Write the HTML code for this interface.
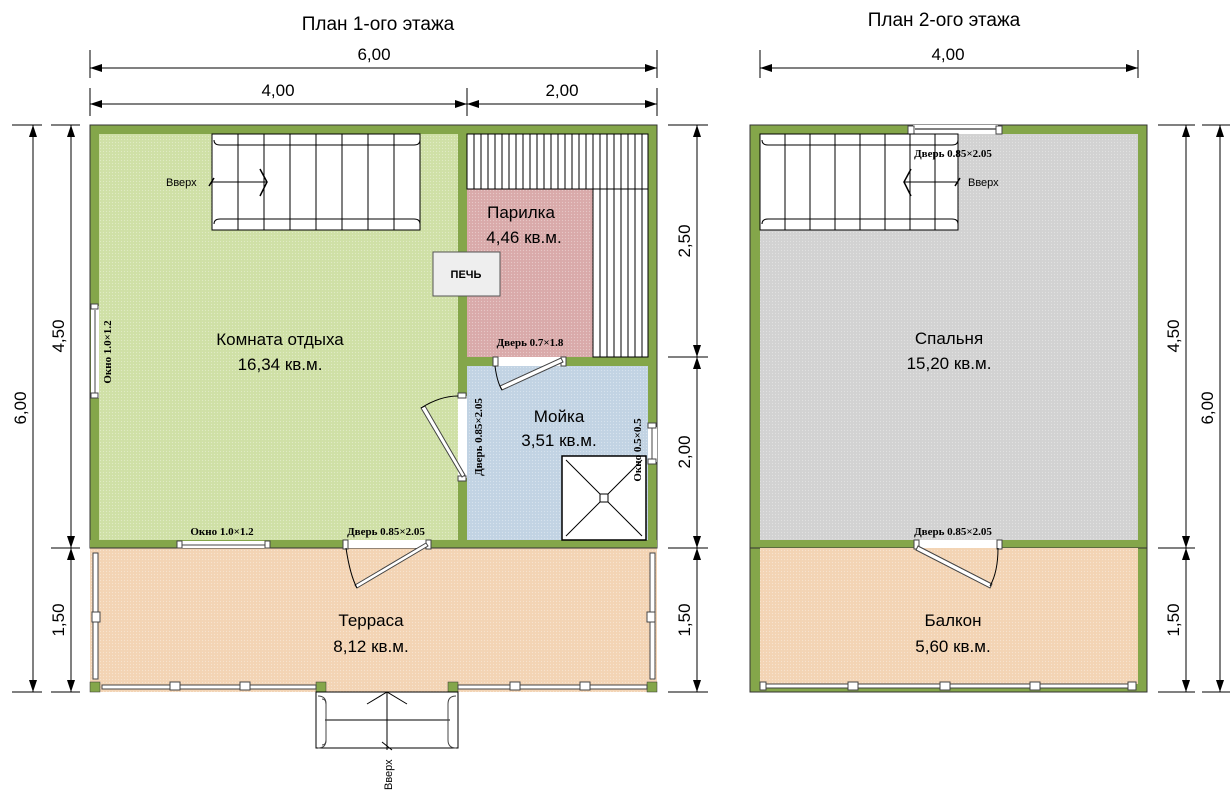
<!DOCTYPE html>
<html><head><meta charset="utf-8"><style>
html,body{margin:0;padding:0;background:#fff;}
svg{display:block;}
text{font-family:"Liberation Sans",sans-serif;}
.s{font-family:"Liberation Serif",serif;font-weight:bold;font-size:11px;}
</style></head><body>
<svg width="1232" height="800" viewBox="0 0 1232 800" xmlns="http://www.w3.org/2000/svg">
<defs>
<marker id="a" markerWidth="10" markerHeight="8" refX="0" refY="4" orient="auto" markerUnits="userSpaceOnUse"><path d="M0,4 L12,0 L12,8 Z" fill="#000"/></marker>
<pattern id="dots" width="3" height="3" patternUnits="userSpaceOnUse"><rect width="3" height="3" fill="none"/><circle cx="1.5" cy="1.5" r="0.6" fill="#fff" opacity="0.35"/></pattern>
</defs>

<!-- titles -->
<text x="378" y="30" font-size="19" text-anchor="middle">План 1-ого этажа</text>
<text x="944" y="26" font-size="19" text-anchor="middle">План 2-ого этажа</text>

<g stroke="#000" stroke-width="1" fill="none">
<!-- floor1 top dims -->
<line x1="90" y1="50" x2="90" y2="78"/><line x1="657" y1="50" x2="657" y2="78"/>
<line x1="90" y1="68" x2="657" y2="68"/>
<line x1="90" y1="88" x2="90" y2="116"/><line x1="467" y1="88" x2="467" y2="116"/><line x1="657" y1="88" x2="657" y2="116"/>
<line x1="90" y1="104" x2="657" y2="104"/>
<!-- left dims -->
<line x1="12" y1="125" x2="42" y2="125"/><line x1="12" y1="692" x2="42" y2="692"/>
<line x1="33" y1="125" x2="33" y2="692"/>
<line x1="51" y1="125" x2="80" y2="125"/><line x1="51" y1="548" x2="80" y2="548"/><line x1="51" y1="692" x2="80" y2="692"/>
<line x1="71" y1="125" x2="71" y2="692"/>
<!-- right floor1 dims -->
<line x1="668" y1="125" x2="708" y2="125"/><line x1="668" y1="357" x2="708" y2="357"/><line x1="668" y1="548" x2="708" y2="548"/><line x1="668" y1="692" x2="708" y2="692"/>
<line x1="697" y1="125" x2="697" y2="692"/>
<!-- floor2 dims -->
<line x1="760" y1="50" x2="760" y2="78"/><line x1="1138" y1="50" x2="1138" y2="78"/>
<line x1="760" y1="68" x2="1138" y2="68"/>
<line x1="1158" y1="125" x2="1195" y2="125"/><line x1="1158" y1="548" x2="1195" y2="548"/><line x1="1158" y1="692" x2="1195" y2="692"/>
<line x1="1186" y1="125" x2="1186" y2="692"/>
<line x1="1202" y1="125" x2="1230" y2="125"/><line x1="1202" y1="692" x2="1230" y2="692"/>
<line x1="1220" y1="125" x2="1220" y2="692"/>
</g>
<g fill="#000">
<!-- arrowheads -->
<path d="M90,68 l12,-4 v8z"/><path d="M657,68 l-12,-4 v8z"/>
<path d="M90,104 l12,-4 v8z"/><path d="M467,104 l-12,-4 v8z"/><path d="M467,104 l12,-4 v8z"/><path d="M657,104 l-12,-4 v8z"/>
<path d="M33,125 l-4,12 h8z"/><path d="M33,692 l-4,-12 h8z"/>
<path d="M71,125 l-4,12 h8z"/><path d="M71,548 l-4,-12 h8z"/><path d="M71,548 l-4,12 h8z"/><path d="M71,692 l-4,-12 h8z"/>
<path d="M697,125 l-4,12 h8z"/><path d="M697,357 l-4,-12 h8z"/><path d="M697,357 l-4,12 h8z"/><path d="M697,548 l-4,-12 h8z"/><path d="M697,548 l-4,12 h8z"/><path d="M697,692 l-4,-12 h8z"/>
<path d="M760,68 l12,-4 v8z"/><path d="M1138,68 l-12,-4 v8z"/>
<path d="M1186,125 l-4,12 h8z"/><path d="M1186,548 l-4,-12 h8z"/><path d="M1186,548 l-4,12 h8z"/><path d="M1186,692 l-4,-12 h8z"/>
<path d="M1220,125 l-4,12 h8z"/><path d="M1220,692 l-4,-12 h8z"/>
</g>
<g font-size="17">
<text x="374" y="60" text-anchor="middle">6,00</text>
<text x="278" y="96" text-anchor="middle">4,00</text>
<text x="562" y="96" text-anchor="middle">2,00</text>
<text x="948" y="60" text-anchor="middle">4,00</text>
<text transform="translate(26,408) rotate(-90)" text-anchor="middle">6,00</text>
<text transform="translate(64,336) rotate(-90)" text-anchor="middle">4,50</text>
<text transform="translate(64,620) rotate(-90)" text-anchor="middle">1,50</text>
<text transform="translate(690,241) rotate(-90)" text-anchor="middle">2,50</text>
<text transform="translate(690,452) rotate(-90)" text-anchor="middle">2,00</text>
<text transform="translate(690,620) rotate(-90)" text-anchor="middle">1,50</text>
<text transform="translate(1179,336) rotate(-90)" text-anchor="middle">4,50</text>
<text transform="translate(1179,620) rotate(-90)" text-anchor="middle">1,50</text>
<text transform="translate(1213,408) rotate(-90)" text-anchor="middle">6,00</text>
</g>

<!-- FLOOR 1 -->
<rect x="90" y="125" width="567" height="423" fill="#84a64a" stroke="#333"/>
<rect x="99" y="134" width="359" height="406" fill="#cfe0a6"/>
<rect x="467" y="134" width="181" height="223" fill="#d9aaaa"/>
<rect x="467" y="366" width="181" height="174" fill="#c2d3e3"/>
<rect x="99" y="134" width="359" height="406" fill="url(#dots)"/>
<rect x="467" y="134" width="181" height="223" fill="url(#dots)"/>
<rect x="467" y="366" width="181" height="174" fill="url(#dots)"/>
<!-- terrace -->
<rect x="90" y="548" width="567" height="144" fill="#f3d4b4"/>
<rect x="90" y="548" width="567" height="144" fill="url(#dots)"/>
<rect x="90" y="682" width="10" height="10" fill="#84a64a" stroke="#333" stroke-width="0.5"/>
<rect x="647" y="682" width="10" height="10" fill="#84a64a" stroke="#333" stroke-width="0.5"/>
<rect x="316" y="682" width="10" height="10" fill="#84a64a" stroke="#333" stroke-width="0.5"/>
<rect x="448" y="682" width="10" height="10" fill="#84a64a" stroke="#333" stroke-width="0.5"/>
<g fill="#fff" stroke="#444" stroke-width="1">
<rect x="93" y="553" width="5" height="126"/>
<rect x="650" y="553" width="5" height="126"/>
<rect x="102" y="685" width="214" height="4"/>
<rect x="458" y="685" width="189" height="4"/>
<rect x="170" y="682" width="10" height="8"/><rect x="240" y="682" width="10" height="8"/>
<rect x="510" y="682" width="10" height="8"/><rect x="580" y="682" width="10" height="8"/>
<rect x="92" y="612" width="8" height="10"/><rect x="647" y="612" width="8" height="10"/>
</g>
<!-- porch stairs -->
<g fill="none" stroke="#000">
<rect x="316" y="692" width="142" height="56" fill="#fff"/>
<line x1="325" y1="720" x2="450" y2="720"/>
<line x1="387" y1="692" x2="387" y2="750"/>
<path d="M367,704 L387,692 L407,704"/>
<line x1="382" y1="742" x2="392" y2="750"/>
<path d="M318,696 q8,0 8,8 v36 q0,8 -8,8" stroke="#444"/>
<path d="M322,699 q4,0 4,5 v36 q0,5 -4,5" stroke="#444"/>
<path d="M456,696 q-8,0 -8,8 v36 q0,8 8,8" stroke="#444"/>
</g>
<text transform="translate(392,790) rotate(-90)" font-size="11">Вверх</text>

<!-- interior walls -->
<rect x="458" y="134" width="9" height="406" fill="#84a64a"/>
<rect x="467" y="357" width="181" height="9" fill="#84a64a"/>
<rect x="90" y="540" width="567" height="8" fill="#84a64a"/>
<line x1="90" y1="548" x2="657" y2="548" stroke="#333"/>

<!-- bench -->
<g stroke="#000" fill="#fff">
<rect x="467" y="134" width="181" height="55"/>
<rect x="593" y="189" width="55" height="168"/>
</g>
<g stroke="#000">
<path d="M474,134v55M481,134v55M488,134v55M495,134v55M502,134v55M509,134v55M516,134v55M523,134v55M530,134v55M537,134v55M544,134v55M551,134v55M558,134v55M565,134v55M572,134v55M579,134v55M586,134v55M593,134v55M600,134v55M607,134v55M614,134v55M621,134v55M628,134v55M635,134v55M642,134v55"/>
<path d="M600,189v168M607,189v168M614,189v168M621,189v168M628,189v168M635,189v168M642,189v168"/>
</g>
<!-- stove -->
<rect x="433" y="252" width="67" height="44" fill="#eee" stroke="#555"/>
<text x="466" y="278" font-size="11" font-weight="bold" text-anchor="middle">ПЕЧЬ</text>

<!-- stairs floor1 -->
<rect x="212" y="134" width="208" height="96" fill="#fff" stroke="#000"/>
<g stroke="#000">
<path d="M238,134v96M264,134v96M290,134v96M316,134v96M342,134v96M368,134v96M394,134v96"/>
<path d="M214,140 q0,5 6,5 h194 q6,0 6,-5" fill="none"/>
<path d="M214,224 q0,-5 6,-5 h194 q6,0 6,5" fill="none"/>
<line x1="212" y1="182" x2="267" y2="182"/>
<path d="M260,169 L267,182 L260,196" fill="none" stroke-width="1.5"/>
<line x1="209" y1="186" x2="214" y2="178" stroke-width="1.5"/>
</g>
<text x="166" y="186" font-size="11">Вверх</text>

<!-- shower -->
<rect x="562" y="456" width="84" height="84" fill="#fff" stroke="#000" stroke-width="1.5"/>
<path d="M566,460 L642,536 M642,460 L566,536" stroke="#000"/>
<rect x="600" y="494" width="8" height="8" fill="#fff" stroke="#000"/>

<!-- openings -->
<g fill="#fff" stroke="#444">
<!-- left window -->
<rect x="91" y="306" width="8" height="92" stroke="none"/>
<line x1="95" y1="310" x2="95" y2="395"/>
<rect x="91" y="304" width="7" height="5"/><rect x="91" y="393" width="7" height="5"/>
<!-- bottom window -->
<rect x="180" y="541" width="88" height="7" stroke="none"/>
<line x1="180" y1="545" x2="268" y2="545"/>
<rect x="177" y="541" width="5" height="7"/><rect x="265" y="541" width="5" height="7"/>
<!-- bottom door -->
<rect x="345" y="540" width="83" height="8" stroke="none"/>
<rect x="343" y="540" width="5" height="9"/><rect x="426" y="540" width="5" height="9"/>
<path d="M428,546 L357,588 L355,585 L426,543 Z"/>
<!-- parilka door -->
<rect x="496" y="357" width="66" height="9" stroke="none"/>
<rect x="493" y="357" width="5" height="9"/><rect x="561" y="357" width="5" height="9"/>
<path d="M563,362 L502,390 L500,386 L561,358 Z"/>
<!-- moyka door -->
<rect x="458" y="396" width="9" height="82" stroke="none"/>
<rect x="458" y="393" width="8" height="5"/><rect x="458" y="476" width="8" height="5"/>
<path d="M462,477 L421,408 L425,406 L465,475 Z"/>
<!-- moyka window -->
<rect x="648" y="427" width="9" height="35" stroke="none"/>
<line x1="652" y1="428" x2="652" y2="460"/>
<rect x="648" y="423" width="8" height="5"/><rect x="648" y="459" width="8" height="5"/>
</g>
<g fill="none" stroke="#000">
<path d="M346,548 Q350,575 357,588"/>
<path d="M495,366 Q497,382 502,390"/>
<path d="M458,396 Q440,396 421,408"/>
</g>
<text class="s" transform="translate(111,352) rotate(-90)" text-anchor="middle">Окно 1.0×1.2</text>
<text class="s" x="222" y="535" text-anchor="middle">Окно 1.0×1.2</text>
<text class="s" x="386" y="535" text-anchor="middle">Дверь 0.85×2.05</text>
<text class="s" x="530" y="346" text-anchor="middle">Дверь 0.7×1.8</text>
<text class="s" transform="translate(482,437) rotate(-90)" text-anchor="middle">Дверь 0.85×2.05</text>
<text class="s" transform="translate(641,450) rotate(-90)" text-anchor="middle">Окно 0.5×0.5</text>

<g font-size="17" text-anchor="middle">
<text x="280" y="345">Комната  отдыха</text>
<text x="280" y="370">16,34 кв.м.</text>
<text x="521" y="218">Парилка</text>
<text x="524" y="243">4,46 кв.м.</text>
<text x="559" y="422">Мойка</text>
<text x="559" y="446">3,51 кв.м.</text>
<text x="371" y="626">Терраса</text>
<text x="371" y="652">8,12 кв.м.</text>
</g>

<!-- FLOOR 2 -->
<rect x="750" y="125" width="397" height="423" fill="#84a64a" stroke="#333"/>
<rect x="760" y="134" width="378" height="406" fill="#d2d2d2"/>
<rect x="760" y="134" width="378" height="406" fill="url(#dots)"/>
<rect x="750" y="548" width="397" height="144" fill="#84a64a" stroke="#333"/>
<rect x="760" y="548" width="378" height="136" fill="#f3d4b4"/>
<rect x="760" y="548" width="378" height="136" fill="url(#dots)"/>
<g fill="#fff" stroke="#444">
<rect x="762" y="684" width="374" height="4"/>
<rect x="848" y="682" width="10" height="8"/><rect x="940" y="682" width="10" height="8"/><rect x="1030" y="682" width="10" height="8"/>
<rect x="1128" y="682" width="8" height="8"/><rect x="760" y="682" width="6" height="8"/>
<!-- top door -->
<rect x="913" y="125" width="85" height="9" stroke="none"/>
<line x1="915" y1="129" x2="997" y2="129" stroke="#000"/>
<rect x="908" y="126" width="6" height="8"/><rect x="996" y="126" width="6" height="8"/>
<!-- bottom door -->
<rect x="918" y="540" width="82" height="8" stroke="none"/>
<rect x="914" y="540" width="5" height="9"/><rect x="997" y="540" width="5" height="9"/>
<path d="M918,546 L992,584 L990,588 L916,550 Z"/>
</g>
<path d="M998,548 Q998,572 990,586" fill="none" stroke="#000"/>
<!-- stairs floor2 -->
<rect x="760" y="134" width="198" height="96" fill="#fff" stroke="#000"/>
<g stroke="#000">
<path d="M785,134v96M810,134v96M835,134v96M860,134v96M885,134v96M910,134v96M935,134v96"/>
<path d="M762,140 q0,5 6,5 h184 q6,0 6,-5" fill="none"/>
<path d="M762,224 q0,-5 6,-5 h184 q6,0 6,5" fill="none"/>
<line x1="904" y1="182" x2="958" y2="182"/>
<path d="M911,169 L904,182 L911,196" fill="none" stroke-width="1.5"/>
<line x1="955" y1="186" x2="960" y2="178" stroke-width="1.5"/>
</g>
<text x="968" y="186" font-size="11">Вверх</text>
<text class="s" x="953" y="157" text-anchor="middle">Дверь 0.85×2.05</text>
<text class="s" x="953" y="535" text-anchor="middle">Дверь 0.85×2.05</text>
<g font-size="17" text-anchor="middle">
<text x="949" y="344">Спальня</text>
<text x="949" y="369">15,20 кв.м.</text>
<text x="953" y="626">Балкон</text>
<text x="953" y="652">5,60 кв.м.</text>
</g>
</svg>
</body></html>
